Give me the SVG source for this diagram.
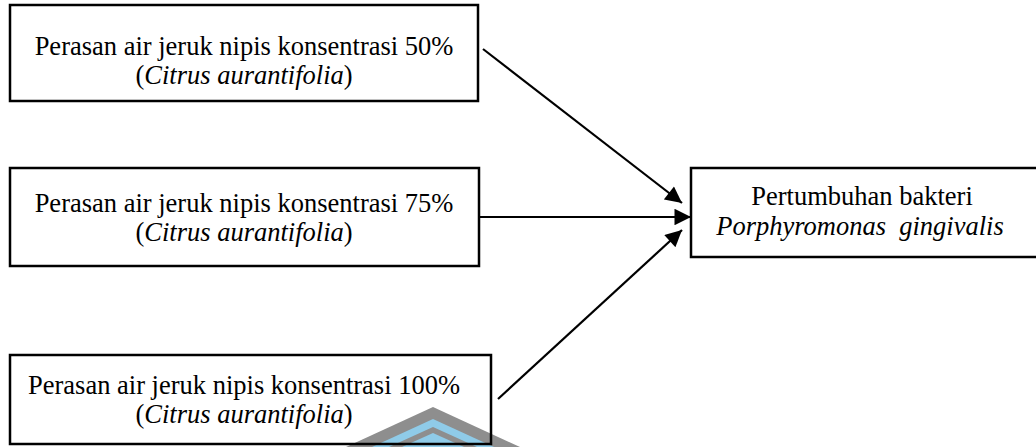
<svg xmlns="http://www.w3.org/2000/svg" width="1036" height="447" viewBox="0 0 1036 447">
<style>
.box{fill:none;stroke:#000;stroke-width:2.5}
.t{font-family:"Liberation Serif","Times New Roman",serif;font-size:26.5px;fill:#000;text-anchor:middle;white-space:pre}
.i{font-style:italic}
.c{stroke:#000;stroke-width:2.2;fill:none}
.wg{fill:#8e8e8e}
.wb{fill:#8fcbe8}
</style>
<defs>
<marker id="ah" viewBox="0 0 10 10" refX="10" refY="5" markerWidth="8" markerHeight="7.5" markerUnits="strokeWidth" orient="auto">
<path d="M0,0 L10,5 L0,10 Z" fill="#000"/>
</marker>
</defs>
<rect width="1036" height="447" fill="#fff"/>
<g id="watermark">
<polygon class="wg" points="346,447 433,407 520,447"/>
<polygon class="wb" points="372,447 433,419 494,447"/>
<polygon class="wg" points="389,447 433,427 477,447"/>
<polygon class="wb" points="402,447 433,433 464,447"/>
</g>
<g id="node1">
<rect class="box" x="10" y="5" width="468" height="96"/>
<text class="t" x="244" y="55">Perasan air jeruk nipis konsentrasi 50%</text>
<text class="t" x="244" y="84">(<tspan class="i">Citrus aurantifolia</tspan>)</text>
</g>
<g id="node2">
<rect class="box" x="10" y="168" width="469" height="98"/>
<text class="t" x="244" y="212">Perasan air jeruk nipis konsentrasi 75%</text>
<text class="t" x="244" y="241">(<tspan class="i">Citrus aurantifolia</tspan>)</text>
</g>
<g id="node3">
<rect class="box" x="10" y="355" width="481" height="89"/>
<text class="t" x="244" y="394">Perasan air jeruk nipis konsentrasi 100%</text>
<text class="t" x="244" y="423">(<tspan class="i">Citrus aurantifolia</tspan>)</text>
</g>
<g id="node4">
<rect class="box" x="691" y="168" width="360" height="89"/>
<text class="t" x="862" y="205">Pertumbuhan bakteri</text>
<text class="t i" x="860" y="235">Porphyromonas  gingivalis</text>
</g>
<g id="connectors">
<line class="c" x1="483" y1="49" x2="682" y2="203" marker-end="url(#ah)"/>
<line class="c" x1="479" y1="217" x2="691" y2="217" marker-end="url(#ah)"/>
<line class="c" x1="498" y1="399" x2="682" y2="230" marker-end="url(#ah)"/>
</g>
</svg>
